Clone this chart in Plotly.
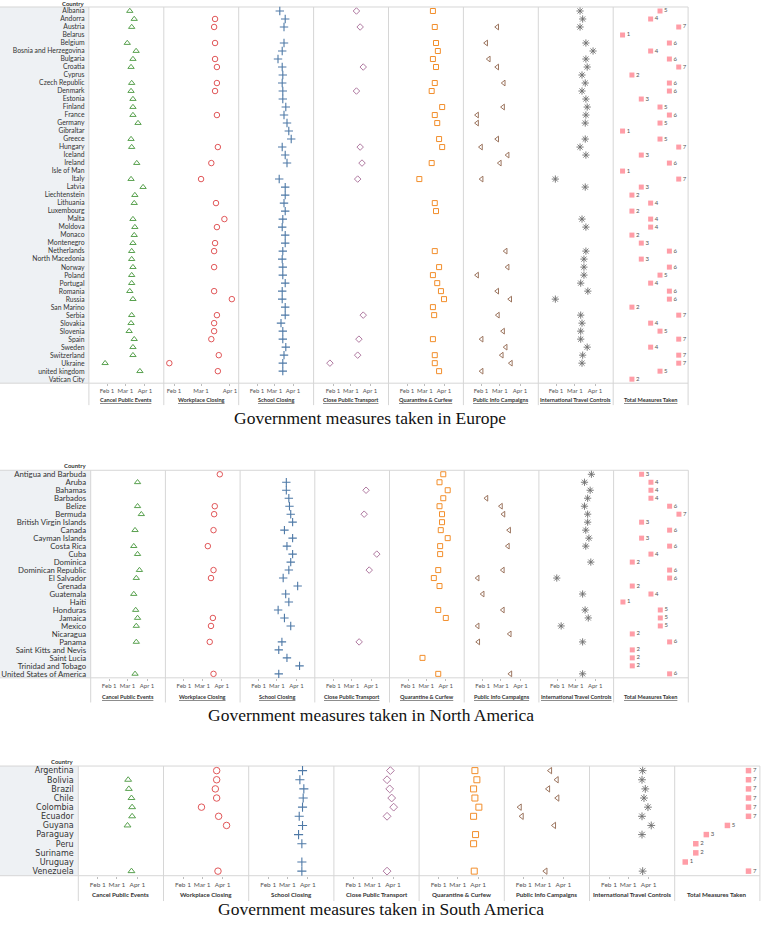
import plotly.graph_objects as go
from datetime import datetime, timedelta

W, H = 761, 926
N = None

MEASURES = ["Cancel Public Events", "Workplace Closing", "School Closing", "Close Public Transport",
            "Quarantine & Curfew", "Public Info Campaigns", "International Travel Controls",
            "Total Measures Taken"]
TICK_DATES = ["2020-02-01", "2020-03-01", "2020-04-01"]
TICK_TEXT = ["Feb 1", "Mar 1", "Apr 1"]

# ---------------- Europe ----------------
EU_COUNTRIES = [
    "Albania", "Andorra", "Austria", "Belarus", "Belgium",
    "Bosnia and Herzegovina", "Bulgaria", "Croatia", "Cyprus", "Czech Republic",
    "Denmark", "Estonia", "Finland", "France", "Germany",
    "Gibraltar", "Greece", "Hungary", "Iceland", "Ireland",
    "Isle of Man", "Italy", "Latvia", "Liechtenstein", "Lithuania",
    "Luxembourg", "Malta", "Moldova", "Monaco", "Montenegro",
    "Netherlands", "North Macedonia", "Norway", "Poland", "Portugal",
    "Romania", "Russia", "San Marino", "Serbia", "Slovakia",
    "Slovenia", "Spain", "Sweden", "Switzerland", "Ukraine",
    "united kingdom", "Vatican City"]
EU_CANCEL = [
    "03-08", "03-15", "03-11", N, "03-04",
    "03-18", "03-13", "03-10", N, "03-11",
    "03-10", "03-13", "03-13", "03-13", "03-21",
    N, "03-10", "03-11", N, "03-19",
    N, "03-10", "03-29", "03-16", "03-15",
    N, "03-13", "03-16", "03-15", "03-13",
    "03-11", "03-11", "03-13", "03-11", "03-11",
    "03-08", "03-13", N, "03-11", "03-10",
    "03-07", "03-15", "03-13", "03-13", "01-29",
    "03-24", N]
EU_WORK = [
    N, "03-16", "03-15", N, "03-16",
    N, "03-16", "03-18", N, "03-18",
    "03-16", N, N, "03-18", N,
    N, N, "03-19", N, "03-12",
    N, "03-01", N, N, "03-17",
    N, "03-26", "03-18", N, "03-16",
    "03-15", N, "03-15", N, N,
    "03-15", "04-03", N, "03-18", "03-15",
    "03-15", "03-12", N, "03-20", "01-27",
    "03-19", N]
EU_SCHOOL = [
    "03-10", "03-19", "03-17", N, "03-17",
    "03-14", "03-07", "03-14", "03-15", "03-14",
    "03-15", "03-15", "03-20", "03-17", "03-22",
    "03-25", "03-29", "03-14", "03-19", "03-22",
    N, "03-09", "03-19", "03-19", "03-17",
    "03-19", "03-15", "03-14", "03-19", "03-19",
    "03-15", "03-14", "03-15", "03-15", "03-19",
    "03-14", "03-14", "03-19", "03-19", "03-12",
    "03-15", "03-15", "03-20", "03-17", "03-15",
    "03-15", N]
EU_TRANSPORT = [
    "03-10", N, "03-16", N, N,
    N, N, "03-21", N, N,
    "03-10", N, N, N, N,
    N, N, "03-16", N, "03-19",
    N, "03-12", N, N, N,
    N, N, N, N, N,
    N, N, N, N, N,
    N, N, N, "03-21", N,
    N, "03-14", N, "03-12", "01-27",
    N, N]
EU_QUARANTINE = [
    "03-14", N, "03-17", N, "03-19",
    "03-22", "03-14", "03-19", N, "03-17",
    "03-12", N, "03-29", "03-17", "03-21",
    N, "03-24", "03-29", N, "03-12",
    N, "02-21", N, N, "03-17",
    "03-19", N, N, N, N,
    "03-17", N, "03-24", "03-14", "03-21",
    "03-27", "04-01", "03-14", "03-16", N,
    N, "03-14", N, "03-17", "03-17",
    "03-24", N]
EU_INFO = [
    N, N, "02-26", N, "02-09",
    N, "02-13", "02-26", N, "03-07",
    N, N, "03-06", "01-26", "01-26",
    N, "02-26", "02-01", "03-13", "03-01",
    N, "02-02", N, N, N,
    N, N, N, N, N,
    "03-10", N, "03-13", "01-26", N,
    "02-26", "03-17", N, "02-27", N,
    "03-06", "02-02", "03-10", "03-04", "03-18",
    "02-02", N]
EU_TRAVEL = [
    "03-09", "03-13", "03-09", N, "03-18",
    "03-29", "03-18", "03-20", "03-12", "03-17",
    "03-12", "03-18", "03-20", "03-18", "03-17",
    N, "03-17", "03-09", "03-18", N,
    N, "01-31", "03-17", N, N,
    N, "03-12", "03-18", N, N,
    "03-18", "03-15", "03-15", "03-15", "03-10",
    "03-21", "01-31", N, "03-10", "03-12",
    "03-10", "03-10", "03-20", "03-13", "03-12",
    N, N]
EU_TOTAL = [
    5, 4, 7, 1, 6,
    4, 6, 7, 2, 6,
    6, 3, 5, 6, 5,
    1, 5, 7, 3, 6,
    1, 7, 3, 2, 4,
    2, 4, 4, 2, 3,
    6, 3, 6, 5, 4,
    6, 6, 2, 7, 4,
    5, 7, 4, 7, 7,
    5, 2]

# ---------------- North America ----------------
NA_COUNTRIES = [
    "Antigua and Barbuda", "Aruba", "Bahamas", "Barbados", "Belize",
    "Bermuda", "British Virgin Islands", "Canada", "Cayman Islands", "Costa Rica",
    "Cuba", "Dominica", "Dominican Republic", "El Salvador", "Grenada",
    "Guatemala", "Haiti", "Honduras", "Jamaica", "Mexico",
    "Nicaragua", "Panama", "Saint Kitts and Nevis", "Saint Lucia", "Trinidad and Tobago",
    "United States of America"]
NA_CANCEL = [
    N, "03-17", N, N, "03-17",
    "03-23", N, "03-13", N, "03-11",
    "03-17", N, "03-20", "03-15", N,
    "03-11", N, "03-14", "03-17", "03-15",
    N, "03-15", N, N, N,
    "03-13"]
NA_WORK = [
    "03-29", N, N, N, "03-21",
    "03-20", N, "03-19", N, "03-10",
    N, N, "03-19", "03-15", N,
    N, N, N, "03-18", "03-15",
    N, "03-13", N, N, N,
    "03-19"]
NA_SCHOOL = [
    N, "03-16", "03-16", "03-20", "03-21",
    "03-23", "03-26", "03-13", "03-26", "03-17",
    "03-26", "03-23", "03-20", "03-11", "04-03",
    "03-15", "03-20", "03-03", "03-13", "03-23",
    N, "03-09", "03-04", "03-17", "04-06",
    "03-04"]
NA_TRANSPORT = [
    N, N, "03-24", N, N,
    "03-21", N, N, N, N,
    "04-10", N, "03-29", N, N,
    N, N, N, N, N,
    N, "03-13", N, N, N,
    N]
NA_QUARANTINE = [
    "03-28", "03-22", "04-04", "03-28", "03-22",
    "03-26", "03-26", "03-24", "04-04", "03-23",
    "03-23", N, "03-20", "03-13", "03-22",
    N, N, "03-20", "04-01", N,
    N, N, N, "02-24", N,
    "03-20"]
NA_INFO = [
    N, N, N, "02-07", "03-01",
    "03-05", N, "03-14", N, "03-12",
    N, N, "03-04", "01-24", N,
    "02-01", N, "03-04", N, "01-24",
    "03-15", "01-25", N, N, N,
    "03-16"]
NA_TRAVEL = [
    "03-26", "03-15", "03-24", "03-20", "03-15",
    "03-20", "03-20", "03-17", "03-22", "03-17",
    N, "03-25", N, "01-31", N,
    "03-12", N, "03-16", "03-21", "02-07",
    N, "03-12", N, N, N,
    "03-12"]
NA_TOTAL = [
    3, 4, 4, 4, 6,
    7, 3, 6, 3, 6,
    4, 2, 6, 6, 2,
    4, 1, 5, 5, 5,
    2, 6, 2, 2, 2,
    6]

# ---------------- South America ----------------
SA_COUNTRIES = [
    "Argentina", "Bolivia", "Brazil", "Chile", "Colombia",
    "Ecuador", "Guyana", "Paraguay", "Peru", "Suriname",
    "Uruguay", "Venezuela"]
SA_CANCEL = [N, "03-18", "03-19", "03-23", "03-24",
             "03-24", "03-17", N, N, N,
             N, "03-23"]
SA_WORK = ["03-23", "03-23", "03-21", "03-23", "02-29",
           "03-26", "04-07", N, N, N,
           N, "03-25"]
SA_SCHOOL = ["03-24", "03-20", "03-26", "03-25", "03-24",
             "03-19", "03-24", "03-18", "03-23", N,
             "03-23", "03-23"]
SA_TRANSPORT = ["03-28", "03-23", "03-27", "03-30", "04-02",
                "03-23", N, N, N, N,
                N, "03-23"]
SA_QUARANTINE = ["03-27", "03-30", "03-25", "03-27", "04-02",
                 "03-25", N, "03-28", "03-25", N,
                 N, "03-26"]
SA_INFO = ["03-12", "03-22", "03-09", "03-23", "01-26",
           "01-29", "03-18", N, N, N,
           N, "03-05"]
SA_TRAVEL = ["03-23", "03-22", "03-27", "03-25", "03-31",
             "03-22", "04-05", "03-22", N, N,
             N, "03-23"]
SA_TOTAL = [7, 7, 7, 7, 7,
            7, 5, 3, 2, 2,
            1, 7]

# ---------------- styling ----------------
SYMBOLS = ["triangle-up-open", "circle-open", "cross-thin-open", "diamond-open",
           "square-open", "triangle-left-open", "asterisk-open", "square"]
COLORS = ["#59a14f", "#e15759", "#4e79a7", "#b07aa1", "#f28e2b", "#9c755f", "#6e6e6e", "#ff9da7"]
LINE_W = [1, 1, 1.1, 1, 1, 1, 0.9, 0]

FEB1 = datetime(2020, 2, 1)


def X(px):
    return px / W


def Y(py):
    return 1 - py / H


def full_date(v):
    return None if v is None else "2020-" + v


PANELS = [
    dict(title="Government measures taken in Europe",
         countries=EU_COUNTRIES,
         series=[EU_CANCEL, EU_WORK, EU_SCHOOL, EU_TRANSPORT, EU_QUARANTINE, EU_INFO, EU_TRAVEL],
         totals=EU_TOTAL, top=6, bottom=383, left=88.9, colw=74.9,
         cal=[(107, 0.633), (174, 0.933), (257, 0.6), (333, 0.617), (407, 0.617), (481, 0.65), (556, 0.65)],
         tmax=8.0, label_font=dict(family="Lato", size=6.8, color="#333333"),
         header_y=2.5, coltitle_y=399, vline_bottom=405, title_x=370, title_y=418,
         underline=True, msize=[5.5, 5.5, 6, 5, 5, 5, 6, 5], tick_size=6, coltitle_size=5.6),
    dict(title="Government measures taken in North America",
         countries=NA_COUNTRIES,
         series=[NA_CANCEL, NA_WORK, NA_SCHOOL, NA_TRANSPORT, NA_QUARANTINE, NA_INFO, NA_TRAVEL],
         totals=NA_TOTAL, top=470.3, bottom=678.3, left=90.7, colw=74.7,
         cal=[(90.7 + 74.7 * c + 18.5, 0.63) for c in range(7)],
         tmax=8.0, label_font=dict(family="Liberation Sans Narrow, Arial Narrow, Lato", size=7.8, color="#333333"),
         header_y=466, coltitle_y=697, vline_bottom=703, title_x=371, title_y=716,
         underline=True, msize=[5.5, 5.5, 6, 5, 5, 5, 6, 5], tick_size=6, coltitle_size=5.6),
    dict(title="Government measures taken in South America",
         countries=SA_COUNTRIES,
         series=[SA_CANCEL, SA_WORK, SA_SCHOOL, SA_TRANSPORT, SA_QUARANTINE, SA_INFO, SA_TRAVEL],
         totals=SA_TOTAL, top=766.7, bottom=876.6, left=78.3, colw=85.2,
         cal=[(78.3 + 85.2 * c + 19.5, 0.66) for c in range(7)],
         tmax=8.08, label_font=dict(family="DejaVu Sans", size=8, color="#333333"),
         header_y=762, coltitle_y=895, vline_bottom=902, title_x=381, title_y=910,
         underline=False, msize=[6, 6.5, 6.5, 6, 6, 5.5, 6.5, 5.5], tick_size=6.5, coltitle_size=6.2),
]

fig = go.Figure()
layout_axes = {}
shapes = []
annotations = []
GRID = "#d6d6d6"

for p, P in enumerate(PANELS):
    ya = p + 1
    yname = "yaxis" if ya == 1 else f"yaxis{ya}"
    yref = "y" if ya == 1 else f"y{ya}"
    countries = P["countries"]
    n = len(countries)
    right = P["left"] + 8 * P["colw"]

    # label column background
    shapes.append(dict(type="rect", xref="paper", yref="paper", x0=0, x1=X(P["left"]),
                       y0=Y(P["bottom"]), y1=Y(P["top"]), fillcolor="#eef1f4",
                       line=dict(width=0), layer="below"))
    # top / bottom borders
    for yy in (P["top"], P["bottom"]):
        shapes.append(dict(type="line", xref="paper", yref="paper", x0=0, x1=X(right),
                           y0=Y(yy), y1=Y(yy), line=dict(color=GRID, width=1), layer="below"))
    # vertical dividers
    for c in range(9):
        xx = P["left"] + c * P["colw"]
        shapes.append(dict(type="line", xref="paper", yref="paper", x0=X(xx), x1=X(xx),
                           y0=Y(P["vline_bottom"]), y1=Y(P["top"]),
                           line=dict(color=GRID, width=1), layer="below"))
    # header
    annotations.append(dict(text="<b>Country</b>", xref="paper", yref="paper",
                            x=X(P["left"] - 2), y=Y(P["header_y"]), xanchor="right", yanchor="middle",
                            showarrow=False, font=dict(family="Lato", size=6, color="#333333")))
    # panel title
    annotations.append(dict(text=P["title"], xref="paper", yref="paper",
                            x=X(P["title_x"]), y=Y(P["title_y"]), xanchor="center", yanchor="middle",
                            showarrow=False, font=dict(family="Liberation Serif", size=17.5, color="#111111")))

    for c in range(8):
        k = p * 8 + c + 1
        xname = "xaxis" if k == 1 else f"xaxis{k}"
        xref = "x" if k == 1 else f"x{k}"
        x0 = P["left"] + c * P["colw"]
        x1 = x0 + P["colw"]
        ax = dict(domain=[X(x0), X(x1)], anchor=yref, showgrid=False, zeroline=False,
                  showline=False, fixedrange=True)
        label = MEASURES[c]
        if P["underline"]:
            label = f"<u>{label}</u>"
        annotations.append(dict(text=f"<b>{label}</b>", xref="paper", yref="paper",
                                x=X((x0 + x1) / 2), y=Y(P["coltitle_y"]), xanchor="center",
                                yanchor="middle", showarrow=False,
                                font=dict(family="Liberation Sans Narrow, Arial Narrow, Lato",
                                          size=P["coltitle_size"], color="#333333")))
        if c < 7:
            feb_px, ppd = P["cal"][c]
            start = FEB1 - timedelta(days=(feb_px - x0) / ppd)
            end = FEB1 + timedelta(days=(x1 - feb_px) / ppd)
            ax.update(type="date",
                      range=[start.strftime("%Y-%m-%d %H:%M:%S"), end.strftime("%Y-%m-%d %H:%M:%S")],
                      tickmode="array", tickvals=TICK_DATES, ticktext=TICK_TEXT, tickangle=0,
                      ticks="outside", ticklen=2, tickcolor="#bdbdbd",
                      tickfont=dict(family="Lato", size=P["tick_size"], color="#555555"))
            vals = P["series"][c]
            xs = [full_date(v) for v in vals if v is not None]
            ys = [cn for cn, v in zip(countries, vals) if v is not None]
            fig.add_trace(go.Scatter(
                x=xs, y=ys, xaxis=xref, yaxis=yref, mode="markers", cliponaxis=False,
                hoverinfo="skip", showlegend=False,
                marker=dict(symbol=SYMBOLS[c], size=P["msize"][c], color=COLORS[c],
                            line=dict(color=COLORS[c], width=LINE_W[c]))))
        else:
            ax.update(type="linear", range=[0, P["tmax"]], showticklabels=False, ticks="")
            fig.add_trace(go.Scatter(
                x=P["totals"], y=countries, xaxis=xref, yaxis=yref, mode="markers+text",
                text=[str(t) for t in P["totals"]], textposition="middle right",
                textfont=dict(family="Lato", size=6, color="#555555"),
                cliponaxis=False, hoverinfo="skip", showlegend=False,
                marker=dict(symbol=SYMBOLS[7], size=P["msize"][7], color=COLORS[7],
                            line=dict(width=0))))
        layout_axes[xname] = ax

    layout_axes[yname] = dict(
        domain=[Y(P["bottom"]), Y(P["top"])], anchor="x" if p == 0 else f"x{p * 8 + 1}",
        type="category", categoryorder="array", categoryarray=countries,
        range=[n - 0.5, -0.5], tickmode="array", tickvals=countries, ticktext=countries,
        showgrid=False, zeroline=False, showline=False, ticks="outside", ticklen=2,
        tickcolor="rgba(0,0,0,0)", tickfont=P["label_font"], fixedrange=True)

fig.update_layout(
    width=W, height=H, autosize=False,
    margin=dict(l=0, r=0, t=0, b=0, pad=0),
    paper_bgcolor="white", plot_bgcolor="rgba(0,0,0,0)",
    showlegend=False, shapes=shapes, annotations=annotations,
    **layout_axes)

fig.write_html("out.html", config={"displayModeBar": False},
               post_script="document.body.style.margin='0px';document.body.style.overflow='hidden';")
